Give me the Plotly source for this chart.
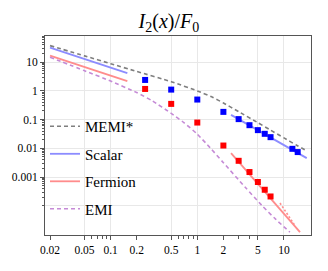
import plotly.graph_objects as go
import numpy as np

# ---- data ----
memi_x = [0.02, 0.05, 0.1, 0.2, 0.5, 1, 1.5, 2, 3, 5, 7, 10, 14, 18.3]
memi_y = [37.8, 16.6, 8.9, 4.76, 2.1, 1.0, 0.6, 0.38, 0.19, 0.078, 0.043, 0.023, 0.0128, 0.0082]

scalar_lo_x = [0.02, 0.156]
scalar_lo_y = [32.2, 4.14]
scalar_hi_x = [2.45, 18.3]
scalar_hi_y = [0.146, 0.00456]

fermion_lo_x = [0.02, 0.156]
fermion_lo_y = [17.0, 2.18]
fermion_hi_x = [2.45, 15.3]
fermion_hi_y = [0.0068, 1.2e-5]
fermion_dash_x = [9.0, 13.15]
fermion_dash_y = [1.24e-4, 2.2e-5]

emi_x = [0.02, 0.05, 0.1, 0.2, 0.3, 0.5, 0.7, 1, 1.4, 2, 3.55, 5.53, 8, 11.7]
emi_y = [14.9, 5.05, 2.2, 0.876, 0.458, 0.165, 0.0787, 0.0311, 0.0106, 0.00315, 4.49e-4, 1.04e-4, 3.4e-5, 1.2e-5]

pts_x = [0.25, 0.5, 1, 2, 3, 4, 5, 6, 7, 12.5, 14.4]
scalar_pts_y = [2.41, 1.11, 0.50, 0.186, 0.104, 0.064, 0.043, 0.032, 0.0245, 0.0096, 0.0074]
fermion_pts_x = [0.25, 0.5, 1, 2, 3, 4, 5, 6, 7]
fermion_pts_y = [1.17, 0.353, 0.079, 0.0125, 0.00367, 0.00149, 6.7e-4, 3.6e-4, 2.1e-4]

x_tickvals = [0.02, 0.05, 0.1, 0.2, 0.5, 1, 2, 5, 10]
x_ticktext = ["0.02", "0.05", "0.1", "0.2", "0.5", "1", "2", "5", "10"]
x_minor = [0.06, 0.07, 0.08, 0.09, 0.6, 0.7, 0.8, 0.9, 3, 4]
x_grid = [0.05, 0.1, 0.5, 1, 5, 10]

y_tickvals = [1e-3, 1e-2, 1e-1, 1, 10]
y_ticktext = ["0.001", "0.01", "0.1", "1", "10"]
y_minor = [m * 10.0**e for e in range(-4, 2) for m in range(1, 10) if not (m == 1 and e > -4)]
y_grid = [1e-4, 1e-3, 1e-2, 1e-1, 1, 10]

# ---- styles ----
GRAY = "#7f7f7f"
BLUE_L = "#8c8cff"
RED_L = "#ff8c8c"
PURPLE = "#c58ad6"
FONT = "Liberation Serif"
GRIDC = "#e8e8e8"

fig = go.Figure()

fig.add_trace(go.Scatter(x=memi_x, y=memi_y, mode="lines", name="MEMI*",
                         line=dict(color=GRAY, width=1.6, dash="4px,3px", shape="spline", smoothing=0.5),
                         legendgroup="a"))
fig.add_trace(go.Scatter(x=scalar_lo_x, y=scalar_lo_y, mode="lines", name="Scalar",
                         line=dict(color=BLUE_L, width=1.8), legendgroup="b"))
fig.add_trace(go.Scatter(x=scalar_hi_x, y=scalar_hi_y, mode="lines", name="Scalar",
                         line=dict(color=BLUE_L, width=1.8), showlegend=False, legendgroup="b"))
fig.add_trace(go.Scatter(x=fermion_lo_x, y=fermion_lo_y, mode="lines", name="Fermion",
                         line=dict(color=RED_L, width=1.8), legendgroup="c"))
fig.add_trace(go.Scatter(x=fermion_hi_x, y=fermion_hi_y, mode="lines", name="Fermion",
                         line=dict(color=RED_L, width=1.8), showlegend=False, legendgroup="c"))
fig.add_trace(go.Scatter(x=fermion_dash_x, y=fermion_dash_y, mode="lines",
                         line=dict(color=RED_L, width=1.6, dash="2px,2px"),
                         showlegend=False, legendgroup="c"))
fig.add_trace(go.Scatter(x=emi_x, y=emi_y, mode="lines", name="EMI",
                         line=dict(color=PURPLE, width=1.6, dash="4px,3px", shape="spline", smoothing=0.5),
                         legendgroup="d"))
fig.add_trace(go.Scatter(x=pts_x, y=scalar_pts_y, mode="markers", showlegend=False,
                         marker=dict(symbol="square", size=6, color="#0000ff")))
fig.add_trace(go.Scatter(x=fermion_pts_x, y=fermion_pts_y, mode="markers", showlegend=False,
                         marker=dict(symbol="square", size=6, color="#ff0000")))
# empty trace anchoring the grid overlay axes
fig.add_trace(go.Scatter(x=[], y=[], xaxis="x2", yaxis="y2", showlegend=False, hoverinfo="skip"))

xr = [np.log10(0.0175), np.log10(20.5)]
yr = [-5.02, 1.913]

fig.update_layout(
    width=328, height=271,
    margin=dict(l=45, r=17, t=36, b=36),
    paper_bgcolor="white", plot_bgcolor="white",
    font=dict(family=FONT, color="black", size=11.5),
    title=dict(text="<i>I</i><sub>2</sub>(<i>x</i>)/<i>F</i><sub>0</sub>",
               x=0.515, xanchor="center", y=0.922, yanchor="middle",
               font=dict(family=FONT, size=20, color="black")),
    xaxis=dict(type="log", range=xr, tickmode="array", tickvals=x_tickvals, ticktext=x_ticktext,
               ticks="outside", ticklen=4, tickcolor="#555", showgrid=False,
               showline=True, linecolor="#555", linewidth=1, mirror=True, zeroline=False,
               minor=dict(tickmode="array", tickvals=x_minor, ticks="outside", ticklen=2.5,
                          tickcolor="#555", showgrid=False),
               tickfont=dict(size=11.5)),
    xaxis2=dict(type="log", range=xr, overlaying="x", anchor="y2", tickmode="array", tickvals=x_grid,
                showticklabels=False, ticks="", showgrid=True, gridcolor=GRIDC, gridwidth=1,
                showline=False, zeroline=False),
    yaxis=dict(type="log", range=yr, tickmode="array", tickvals=y_tickvals, ticktext=y_ticktext,
               ticks="outside", ticklen=4, tickcolor="#555", showgrid=False,
               showline=True, linecolor="#555", linewidth=1, mirror=True, zeroline=False,
               minor=dict(tickmode="array", tickvals=y_minor, ticks="outside", ticklen=2.5,
                          tickcolor="#555", showgrid=False),
               tickfont=dict(size=11.5)),
    yaxis2=dict(type="log", range=yr, overlaying="y", anchor="x2", tickmode="array", tickvals=y_grid,
                showticklabels=False, ticks="", showgrid=True, gridcolor=GRIDC, gridwidth=1,
                showline=False, zeroline=False),
    legend=dict(x=0.0, y=0.05, xanchor="left", yanchor="bottom", bgcolor="rgba(0,0,0,0)",
                font=dict(family=FONT, size=15, color="black"), tracegroupgap=5,
                traceorder="grouped", itemwidth=30),
    showlegend=True,
)

fig.write_html("out.html", config={"displayModeBar": False},
               post_script="document.body.style.margin='0';document.body.style.padding='0';")
